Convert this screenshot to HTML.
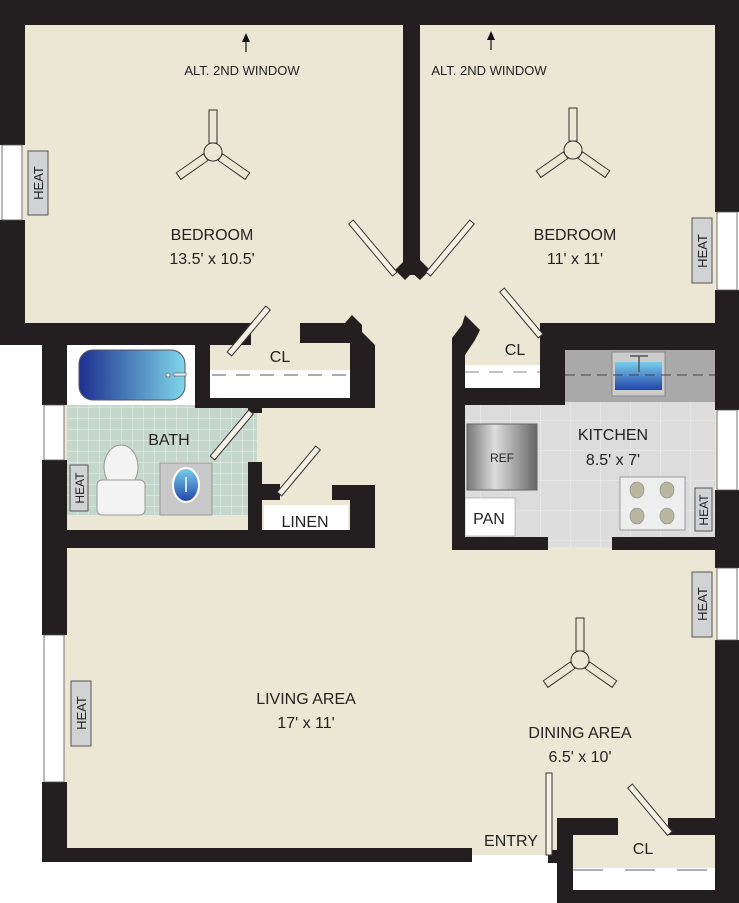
<!DOCTYPE html>
<html><head><meta charset="utf-8"><style>
html,body{margin:0;padding:0;background:#fff;width:739px;height:903px;overflow:hidden}
svg{display:block}
text{font-family:"Liberation Sans",sans-serif;fill:#222}
</style></head><body>
<svg width="739" height="903" viewBox="0 0 739 903" xmlns="http://www.w3.org/2000/svg">
<defs>
<linearGradient id="tub" x1="0" x2="1"><stop offset="0" stop-color="#1d2f8f"/><stop offset="1" stop-color="#7fd6ea"/></linearGradient>
<linearGradient id="ref" x1="0" x2="1"><stop offset="0" stop-color="#777"/><stop offset="0.4" stop-color="#ddd"/><stop offset="1" stop-color="#666"/></linearGradient>
<linearGradient id="sink" x1="0" y1="0" x2="0" y2="1"><stop offset="0" stop-color="#7ad0ee"/><stop offset="1" stop-color="#2244aa"/></linearGradient>
<pattern id="tile" width="11" height="11" patternUnits="userSpaceOnUse"><rect width="11" height="11" fill="#c5d6cd"/><path d="M0 0H11M0 0V11" stroke="#e6eee9" stroke-width="1"/></pattern>
<pattern id="ktile" width="30" height="30" patternUnits="userSpaceOnUse"><rect width="30" height="30" fill="#dcdcdc"/><path d="M0 0H30M0 0V30" stroke="#eee" stroke-width="1"/></pattern>
<g id="fan" fill="#ece6d4" stroke="#333" stroke-width="1">
<rect x="-4" y="-42" width="8" height="33"/>
<rect x="-4" y="-42" width="8" height="33" transform="rotate(125)"/>
<rect x="-4" y="-42" width="8" height="33" transform="rotate(235)"/>
<circle r="9"/>
</g>
</defs>

<!-- floor -->
<rect x="22" y="22" width="695" height="305" fill="#ece6d4"/>
<rect x="60" y="320" width="657" height="535" fill="#ece6d4"/>
<rect x="560" y="820" width="157" height="72" fill="#ece6d4"/>

<!-- bath -->
<rect x="67" y="345" width="130" height="60" fill="#fff"/>
<rect x="79" y="350" width="106" height="50" rx="14" fill="url(#tub)" stroke="#556" stroke-width="1"/>
<circle cx="168" cy="375" r="2" fill="#fff" stroke="#333" stroke-width=".6"/>
<rect x="174" y="373" width="12" height="3" fill="#eee" stroke="#555" stroke-width=".6"/>
<rect x="67" y="405" width="190" height="110" fill="url(#tile)"/>
<ellipse cx="121" cy="467" rx="17" ry="22" fill="#f3f3f3" stroke="#999" stroke-width="1"/>
<rect x="97" y="480" width="48" height="35" rx="5" fill="#f3f3f3" stroke="#999" stroke-width="1"/>
<rect x="160" y="463" width="52" height="52" fill="#c9c9c9" stroke="#999" stroke-width="1"/>
<ellipse cx="186" cy="485" rx="13" ry="17" fill="url(#sink)" stroke="#fff" stroke-width="2"/>
<line x1="186" y1="477" x2="186" y2="492" stroke="#fff" stroke-width="1.5"/>

<!-- bath closet -->
<rect x="210" y="370" width="140" height="28" fill="#fff"/>
<line x1="212" y1="375" x2="348" y2="375" stroke="#555" stroke-dasharray="14 10" stroke-width="1"/>
<rect x="264" y="505" width="84" height="27" fill="#fff"/>

<!-- kitchen -->
<rect x="465" y="365" width="80" height="23" fill="#fff"/>
<line x1="465" y1="372" x2="545" y2="372" stroke="#888" stroke-dasharray="14 10" stroke-width="1"/>
<rect x="565" y="350" width="150" height="52" fill="#a9a9a9"/>
<rect x="465" y="402" width="250" height="145" fill="url(#ktile)"/>
<rect x="612" y="352" width="53" height="44" fill="#ccc" stroke="#888" stroke-width="1"/>
<rect x="615" y="362" width="47" height="28" fill="url(#sink)"/>
<line x1="630" y1="356" x2="648" y2="356" stroke="#555" stroke-width="1.5"/>
<line x1="639" y1="356" x2="639" y2="372" stroke="#555" stroke-width="1.5"/>
<line x1="565" y1="375" x2="715" y2="375" stroke="#444" stroke-dasharray="10 6" stroke-width="1"/>
<rect x="467" y="424" width="70" height="66" fill="url(#ref)" stroke="#666" stroke-width="1"/>
<text x="502" y="462" font-size="12" text-anchor="middle" fill="#333">REF</text>
<rect x="465" y="498" width="50" height="38" fill="#fff" stroke="#999" stroke-width=".6"/>
<rect x="620" y="477" width="65" height="53" fill="#eee" stroke="#999" stroke-width="1"/>
<g fill="#b7b7a0" stroke="#888" stroke-width=".6">
<ellipse cx="637" cy="490" rx="7" ry="8"/><ellipse cx="667" cy="490" rx="7" ry="8"/>
<ellipse cx="637" cy="516" rx="7" ry="8"/><ellipse cx="667" cy="516" rx="7" ry="8"/></g>

<!-- dining closet strip -->
<rect x="573" y="868" width="142" height="22" fill="#fff"/>
<line x1="573" y1="870" x2="715" y2="870" stroke="#666" stroke-dasharray="30 22" stroke-width="1"/>

<!-- walls -->
<g fill="#231f20">
<rect x="0" y="0" width="739" height="25"/>
<rect x="0" y="0" width="25" height="145"/>
<rect x="0" y="220" width="25" height="125"/>
<rect x="715" y="15" width="24" height="197"/>
<rect x="715" y="290" width="24" height="120"/>
<rect x="715" y="490" width="24" height="78"/>
<rect x="715" y="640" width="24" height="263"/>
<rect x="403" y="25" width="17" height="250"/>
<polygon points="395,270 405,260 412,268 420,260 430,270 420,280 412,273 405,280"/>
<rect x="25" y="323" width="226" height="22"/>
<rect x="42" y="323" width="25" height="82"/>
<rect x="42" y="460" width="25" height="175"/>
<rect x="42" y="782" width="25" height="80"/>
<rect x="42" y="848" width="430" height="14"/>
<rect x="195" y="330" width="15" height="78"/>
<rect x="195" y="398" width="180" height="10"/>
<polygon points="300,323 345,323 352,315 362,325 362,332 375,345 375,408 350,408 350,343 300,343"/>
<rect x="248" y="405" width="14" height="8"/>
<rect x="248" y="462" width="14" height="86"/>
<rect x="262" y="484" width="18" height="16"/>
<rect x="332" y="485" width="43" height="15"/>
<rect x="350" y="485" width="25" height="63"/>
<rect x="67" y="530" width="308" height="18"/>
<polygon points="452,550 452,338 462,325 465,315 480,330 475,340 465,355 465,550"/>
<rect x="452" y="537" width="96" height="13"/>
<rect x="612" y="537" width="103" height="13"/>
<rect x="540" y="323" width="175" height="27"/>
<rect x="540" y="323" width="25" height="82"/>
<rect x="452" y="388" width="113" height="17"/>
<rect x="557" y="818" width="61" height="17"/>
<rect x="557" y="818" width="16" height="85"/>
<rect x="668" y="818" width="47" height="17"/>
<rect x="562" y="890" width="177" height="13"/>
<rect x="548" y="850" width="25" height="13"/>
</g>

<!-- windows -->
<g fill="#fff" stroke="#555" stroke-width=".8">
<rect x="2" y="145" width="20" height="75"/>
<rect x="717" y="212" width="20" height="78"/>
<rect x="717" y="410" width="20" height="80"/>
<rect x="717" y="568" width="20" height="72"/>
<rect x="44" y="405" width="20" height="55"/>
<rect x="44" y="635" width="20" height="147"/>
</g>

<!-- doors -->
<g fill="#f4f0e4" stroke="#333" stroke-width="1">
<rect x="-3" y="0" width="6" height="60" transform="translate(268,308) rotate(40)"/>
<rect x="-3" y="0" width="6" height="68" transform="translate(351,222) rotate(-40)"/>
<rect x="-3" y="0" width="6" height="68" transform="translate(472,222) rotate(40)"/>
<rect x="-3" y="0" width="6" height="60" transform="translate(502,290) rotate(-40)"/>
<rect x="-3" y="0" width="6" height="60" transform="translate(251,412) rotate(40)"/>
<rect x="-3" y="0" width="6" height="60" transform="translate(318,448) rotate(40)"/>
<rect x="-3" y="0" width="6" height="62" transform="translate(630,786) rotate(-40)"/>
<rect x="546" y="773" width="6" height="82"/>
</g>

<!-- heat -->
<g fill="#d1d2d4" stroke="#555" stroke-width="1">
<rect x="28" y="151" width="20" height="64"/>
<rect x="692" y="218" width="20" height="65"/>
<rect x="70" y="465" width="18" height="46"/>
<rect x="695" y="488" width="17" height="43"/>
<rect x="692" y="572" width="20" height="65"/>
<rect x="71" y="681" width="20" height="65"/>
</g>
<g font-size="13">
<text transform="translate(43,183) rotate(-90)" text-anchor="middle">HEAT</text>
<text transform="translate(707,251) rotate(-90)" text-anchor="middle">HEAT</text>
<text transform="translate(84,488) rotate(-90)" text-anchor="middle" font-size="12">HEAT</text>
<text transform="translate(708,510) rotate(-90)" text-anchor="middle" font-size="12">HEAT</text>
<text transform="translate(707,604) rotate(-90)" text-anchor="middle">HEAT</text>
<text transform="translate(86,713) rotate(-90)" text-anchor="middle">HEAT</text>
</g>

<!-- fans -->
<use href="#fan" x="213" y="152"/>
<use href="#fan" x="573" y="150"/>
<use href="#fan" x="580" y="660"/>

<!-- arrows -->
<g stroke="#111" stroke-width="1.2"><line x1="246" y1="40" x2="246" y2="52"/><line x1="491" y1="38" x2="491" y2="50"/></g>
<polygon points="246,33 242,42 250,42" fill="#111"/>
<polygon points="491,31 487,40 495,40" fill="#111"/>

<!-- labels -->
<g font-size="16" text-anchor="middle">
<text x="242" y="75" font-size="13">ALT. 2ND WINDOW</text>
<text x="489" y="75" font-size="13">ALT. 2ND WINDOW</text>
<text x="212" y="240">BEDROOM</text>
<text x="212" y="264">13.5' x 10.5'</text>
<text x="575" y="240">BEDROOM</text>
<text x="575" y="264">11' x 11'</text>
<text x="280" y="362">CL</text>
<text x="515" y="355">CL</text>
<text x="169" y="445">BATH</text>
<text x="305" y="527">LINEN</text>
<text x="613" y="440">KITCHEN</text>
<text x="613" y="465">8.5' x 7'</text>
<text x="489" y="524">PAN</text>
<text x="306" y="704">LIVING AREA</text>
<text x="306" y="728">17' x 11'</text>
<text x="580" y="738">DINING AREA</text>
<text x="580" y="762">6.5' x 10'</text>
<text x="511" y="846">ENTRY</text>
<text x="643" y="854">CL</text>
</g>
</svg>
</body></html>
